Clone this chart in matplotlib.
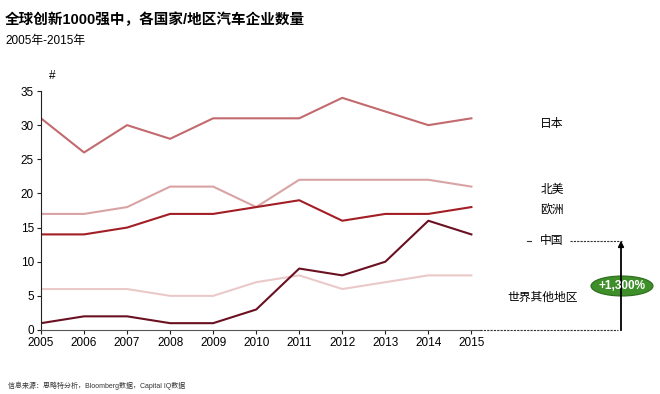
import matplotlib
matplotlib.use('Agg')
import matplotlib.pyplot as plt
from matplotlib.patches import Ellipse

plt.rcParams['font.family'] = ['Liberation Sans', 'Noto Sans CJK SC', 'DejaVu Sans']

years = [2005, 2006, 2007, 2008, 2009, 2010, 2011, 2012, 2013, 2014, 2015]
japan = [31, 26, 30, 28, 31, 31, 31, 34, 32, 30, 31]
north_america = [17, 17, 18, 21, 21, 18, 22, 22, 22, 22, 21]
europe = [14, 14, 15, 17, 17, 18, 19, 16, 17, 17, 18]
china = [1, 2, 2, 1, 1, 3, 9, 8, 10, 16, 14]
rest_of_world = [6, 6, 6, 5, 5, 7, 8, 6, 7, 8, 8]

W, H = 660, 394
fig = plt.figure(figsize=(W / 100, H / 100), dpi=100)
ax = fig.add_axes([41 / W, 1 - 330 / H, (480 - 41) / W, (330 - 91) / H])

ax.plot(years, rest_of_world, color='#EBC9C9', lw=1.5)
ax.plot(years, north_america, color='#D9A3A3', lw=1.5)
ax.plot(years, japan, color='#C26A6E', lw=1.5)
ax.plot(years, europe, color='#A31D25', lw=1.5)
ax.plot(years, china, color='#6A1020', lw=1.5)

ax.set_xlim(2005, 2015.2)
ax.set_ylim(0, 35)
ax.set_xticks(years)
ax.set_yticks(range(0, 36, 5))
for s in ['top', 'right']:
    ax.spines[s].set_visible(False)
ax.spines['left'].set_color('#222222')
ax.spines['bottom'].set_color('#555555')
ax.tick_params(axis='both', labelsize=8.5, length=3, color='#222222', pad=2)

def fx(px):
    return px / W

def fy(py):
    return 1 - py / H

# titles
fig.text(fx(5), fy(20), '全球创新1000强中，各国家/地区汽车企业数量',
         fontsize=10.5, fontweight='bold', va='center', ha='left')
fig.text(fx(5), fy(41), '2005年-2015年', fontsize=8.5, va='center', ha='left')
fig.text(fx(52), fy(76), '#', fontsize=8.5, va='center', ha='center')
fig.text(fx(8), fy(386), '信息来源：思略特分析，Bloomberg数据，Capital IQ数据',
         fontsize=5, va='center', ha='left', color='#333333')

# series labels
fig.text(fx(552), fy(124), '日本', fontsize=8.5, va='center', ha='center')
fig.text(fx(552), fy(190), '北美', fontsize=8.5, va='center', ha='center')
fig.text(fx(552), fy(211), '欧洲', fontsize=8.5, va='center', ha='center')
fig.text(fx(552), fy(241), '中国', fontsize=8.5, va='center', ha='center')
fig.text(fx(543), fy(298), '世界其他地区', fontsize=8.5, va='center', ha='center')

# growth marker
fig.add_artist(plt.Line2D([fx(527), fx(531)], [fy(241), fy(241)], color='#333333', lw=0.8))
fig.add_artist(plt.Line2D([fx(570), fx(622)], [fy(241), fy(241)], color='#333333',
                          lw=0.8, ls=(0, (2, 1))))
fig.add_artist(plt.Line2D([fx(480), fx(618)], [fy(330), fy(330)], color='#333333',
                          lw=0.8, ls=(0, (2, 1))))
fig.add_artist(plt.Line2D([fx(621), fx(621)], [fy(330), fy(244)], color='black', lw=1.3))
ax.annotate('', xy=(fx(621), fy(238)), xytext=(fx(621), fy(250)), xycoords='figure fraction',
            arrowprops=dict(arrowstyle='-|>', color='black', lw=1.3, mutation_scale=8))
fig.add_artist(Ellipse((fx(622), fy(286)), 62 / W, 20 / H, transform=fig.transFigure,
                       facecolor='#3E8E2A', edgecolor='#2C6B1C', lw=0.8))
fig.text(fx(622), fy(286), '+1,300%', fontsize=8.5, fontweight='bold', color='white',
         va='center', ha='center')

fig.savefig('out.png', dpi=100)
